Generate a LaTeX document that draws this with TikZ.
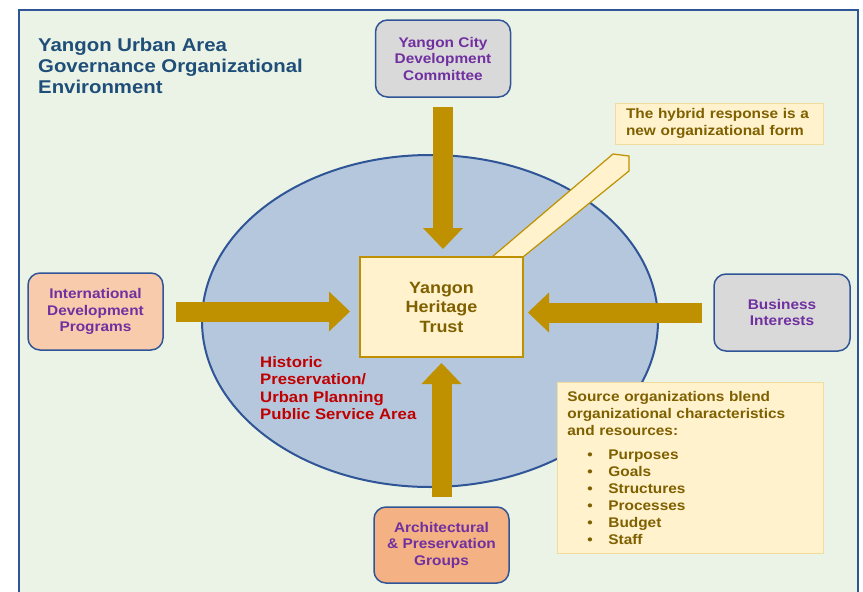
\documentclass[tikz,border=0pt]{standalone}
\usepackage{fontspec}
\setmainfont{Liberation Sans}[FakeStretch=1.1]
\usetikzlibrary{arrows.meta,calc}

\definecolor{framebg}{HTML}{EBF3E6}
\definecolor{frameblue}{HTML}{2F5597}
\definecolor{titleblue}{HTML}{1F4E79}
\definecolor{areablue}{HTML}{B4C7DC}
\definecolor{boxgray}{HTML}{D9D9D9}
\definecolor{peach}{HTML}{F8CBAD}
\definecolor{apricot}{HTML}{F4B183}
\definecolor{orgpurple}{HTML}{7030A0}
\definecolor{gold}{HTML}{BF9000}
\definecolor{cream}{HTML}{FFF2CC}
\definecolor{creamedge}{HTML}{F2DC9B}
\definecolor{olive}{HTML}{7F6000}
\definecolor{areared}{HTML}{C00000}

\tikzset{
  orgbox/.style={draw=frameblue, line width=1.5pt, rounded corners=12pt,
    minimum width=135pt, minimum height=77pt, align=center, inner sep=0pt,
    text=orgpurple, font=\fontsize{14}{16.5}\selectfont\bfseries},
  flow/.style={draw=gold, line width=20pt,
    -{Triangle[length=21pt,width=40pt,line width=0pt]}},
  notebox/.style={fill=cream, draw=creamedge, line width=0.8pt, inner ysep=0pt,
    text=olive, align=left, font=\fontsize{14}{17}\selectfont\bfseries},
}

\begin{document}
\begin{tikzpicture}[x=1pt,y=-1pt]
        \useasboundingbox (0,0) rectangle (863,592);
        \clip (0,0) rectangle (863,592);

        % Environment frame
        \draw[fill=framebg, draw=frameblue, line width=2pt] (19,10) rectangle (858,605);
        \node[anchor=north west, align=left, inner sep=0pt, text=titleblue,
              font=\fontsize{18.5}{21}\selectfont\bfseries] (title) at (38,37.5)
              {Yangon Urban Area\\Governance Organizational\\Environment};

        % Public service area
        \draw[fill=areablue, draw=frameblue, line width=2pt] (430,321) ellipse [x radius=228, y radius=166];
        \node[anchor=north west, align=left, inner sep=0pt, text=areared,
              font=\fontsize{15.2}{17.5}\selectfont\bfseries] (area) at (260,356)
              {Historic\\Preservation/\\Urban Planning\\Public Service Area};

        % Hybrid callout
        \filldraw[fill=cream, draw=gold, line width=1.2pt]
            (492,257) -- (613,154) -- (629,156) -- (629,171) -- (523,257) -- cycle;
        \node[notebox, minimum width=208pt, minimum height=41pt, text width=186pt] (hybrid) at (719,123.5)
              {The hybrid response is a\\new organizational form};

        % Hybrid organization
        \node[fill=cream, draw=gold, line width=2pt, minimum width=163pt, minimum height=100pt,
              align=center, inner sep=0pt, text=olive,
              font=\fontsize{16.3}{19.5}\selectfont\bfseries] (yht) at (441.5,307)
              {Yangon\\Heritage\\Trust};

        % Source organizations
        \node[orgbox, fill=boxgray] (ycdc) at (443,58.5) {Yangon City\\Development\\Committee};
        \node[orgbox, fill=peach] (idp) at (95.5,311.5) {International\\Development\\Programs};
        \node[orgbox, fill=boxgray, minimum width=136pt] (biz) at (782,312.5) {Business\\Interests};
        \node[orgbox, fill=apricot, minimum height=76pt] (apg) at (441.5,545) {Architectural\\\& Preservation\\Groups};

        % Flows into the trust
        \draw[flow, shorten <=9pt, shorten >=7pt] (ycdc) -- (ycdc |- yht.north);
        \draw[flow, shorten <=12pt, shorten >=9pt] (idp) -- (idp -| yht.west);
        \draw[flow, shorten <=11pt, shorten >=4pt] (biz) -- (biz -| yht.east);
        \draw[flow, shorten <=9pt, shorten >=5pt] (apg) -- (apg |- yht.south);

        % Blend note
        \node[notebox, anchor=north west, inner xsep=10pt, minimum height=171pt, text width=246pt] (blend) at (557,382)
              {Source organizations blend\\organizational characteristics\\and resources:\\[7pt]
               \hspace*{20pt}\makebox[21pt][l]{\textbullet}Purposes\\
               \hspace*{20pt}\makebox[21pt][l]{\textbullet}Goals\\
               \hspace*{20pt}\makebox[21pt][l]{\textbullet}Structures\\
               \hspace*{20pt}\makebox[21pt][l]{\textbullet}Processes\\
               \hspace*{20pt}\makebox[21pt][l]{\textbullet}Budget\\
               \hspace*{20pt}\makebox[21pt][l]{\textbullet}Staff};
\end{tikzpicture}
\end{document}
